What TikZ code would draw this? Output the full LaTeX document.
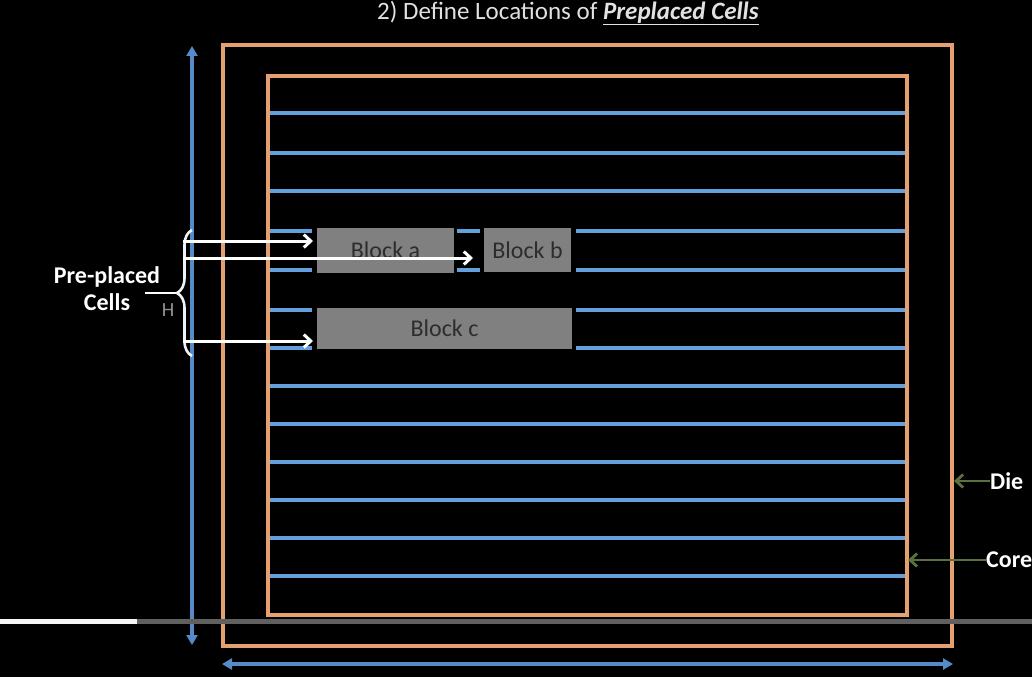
\documentclass[tikz,border=0pt]{standalone}
\usepackage{fontspec}
\setmainfont{Carlito}
\usetikzlibrary{arrows.meta,decorations.pathreplacing}
\definecolor{orng}{RGB}{228,160,112}
\definecolor{rowblue}{RGB}{100,160,220}
\definecolor{axblue}{RGB}{85,140,200}
\definecolor{blk}{RGB}{128,128,128}
\definecolor{blktext}{RGB}{45,45,45}
\definecolor{grn}{RGB}{90,115,60}
\definecolor{ttl}{RGB}{225,225,225}
\begin{document}
\begin{tikzpicture}[x=1pt,y=-1pt,
  outline/.style={draw=orng,line width=3.2pt,inner sep=0pt,outer sep=0pt,anchor=north west},
  row/.style={draw=rowblue,line width=3.5pt},
  blockbox/.style={fill=blk,draw=none,inner sep=0pt,outer sep=0pt,anchor=north west,font=\fontsize{24}{28}\selectfont,text=blktext},
  warrow/.style={draw=white,line width=3pt,-{Straight Barb[length=7pt,width=13pt]}},
  axarrow/.style={draw=axblue,line width=3.5pt,{Triangle[length=10pt,width=11pt]}-{Triangle[length=10pt,width=11pt]}},
  garrow/.style={draw=grn,line width=2.8pt,-{Straight Barb[length=7pt,width=13pt]}},
  lbl/.style={text=white,font=\fontsize{24}{27}\selectfont\bfseries,inner sep=0pt}
]
\fill[black] (0,0) rectangle (1032,677);
\useasboundingbox (0,0) rectangle (1032,677);

% title
\node[text=ttl,font=\fontsize{25}{28}\selectfont,inner sep=0pt] (title) at (568,13)
  {2) Define Locations of \underline{\textbf{\textit{Preplaced Cells}}}};

% die and core
\node[outline,minimum width=729pt,minimum height=601pt] (die) at (223,45) {};
\node[outline,minimum width=639pt,minimum height=539pt] (core) at (268,76) {};

% rows
\foreach \y in {113,153,191,386,424,462,500,538,576}
  \draw[row] (270,\y) -- (905,\y);
\foreach \y in {231,270}{
  \draw[row] (270,\y) -- (312,\y);
  \draw[row] (457,\y) -- (480,\y);
  \draw[row] (576,\y) -- (905,\y);}
\foreach \y in {310,348}{
  \draw[row] (270,\y) -- (312,\y);
  \draw[row] (576,\y) -- (905,\y);}

% blocks
\node[blockbox,minimum width=137pt,minimum height=45pt] (ba) at (317,228) {Block a};
\node[blockbox,minimum width=87pt,minimum height=44pt] (bb) at (484,228) {Block b};
\node[blockbox,minimum width=255pt,minimum height=41pt] (bc) at (317,308) {Block c};

% axes
\coordinate (vt) at (192,46);
\coordinate (vb) at (192,645);
\draw[axarrow] (vb) -- (vt);
\coordinate (hl) at (222,664);
\coordinate (hr) at (953,664);
\draw[axarrow] (hl) -- (hr);

% brace and label
\draw[draw=white!90!gray,line width=2.6pt,decorate,decoration={brace,amplitude=15pt}]
  (192,356) -- (192,230);
\coordinate (btip) at (176,293);
\coordinate (lstart) at (145,293);
\draw[white,line width=2.6pt] (lstart) -- (btip);
\node[lbl,align=center] (pc) at (107,289) {Pre-placed\\Cells};
\node[text=gray!85!white,font=\fontsize{20}{22}\selectfont,inner sep=0pt] (H) at (168,310) {H};

% white arrows
\coordinate (s1) at (183,241);
\coordinate (s2) at (183,258);
\coordinate (s3) at (183,341);
\draw[warrow,shorten >=4pt] (s1) -- (ba.west |- s1);
\draw[warrow,shorten >=11pt] (s2) -- (bb.west |- s2);
\draw[warrow,shorten >=4pt] (s3) -- (bc.west |- s3);

% die / core labels
\node[lbl,anchor=west] (dl) at (990,481) {Die};
\node[lbl,anchor=west] (cl) at (986,560) {Core};
\draw[garrow,shorten >=2pt] (dl.west) -- (die.east |- dl.west);
\draw[garrow,shorten >=1pt] (cl.west) -- (core.east |- cl.west);

% video progress bar
\fill[white!92!gray] (0,619) rectangle (137,624);
\fill[gray!75!black] (137,619) rectangle (1032,624);
\end{tikzpicture}
\end{document}
